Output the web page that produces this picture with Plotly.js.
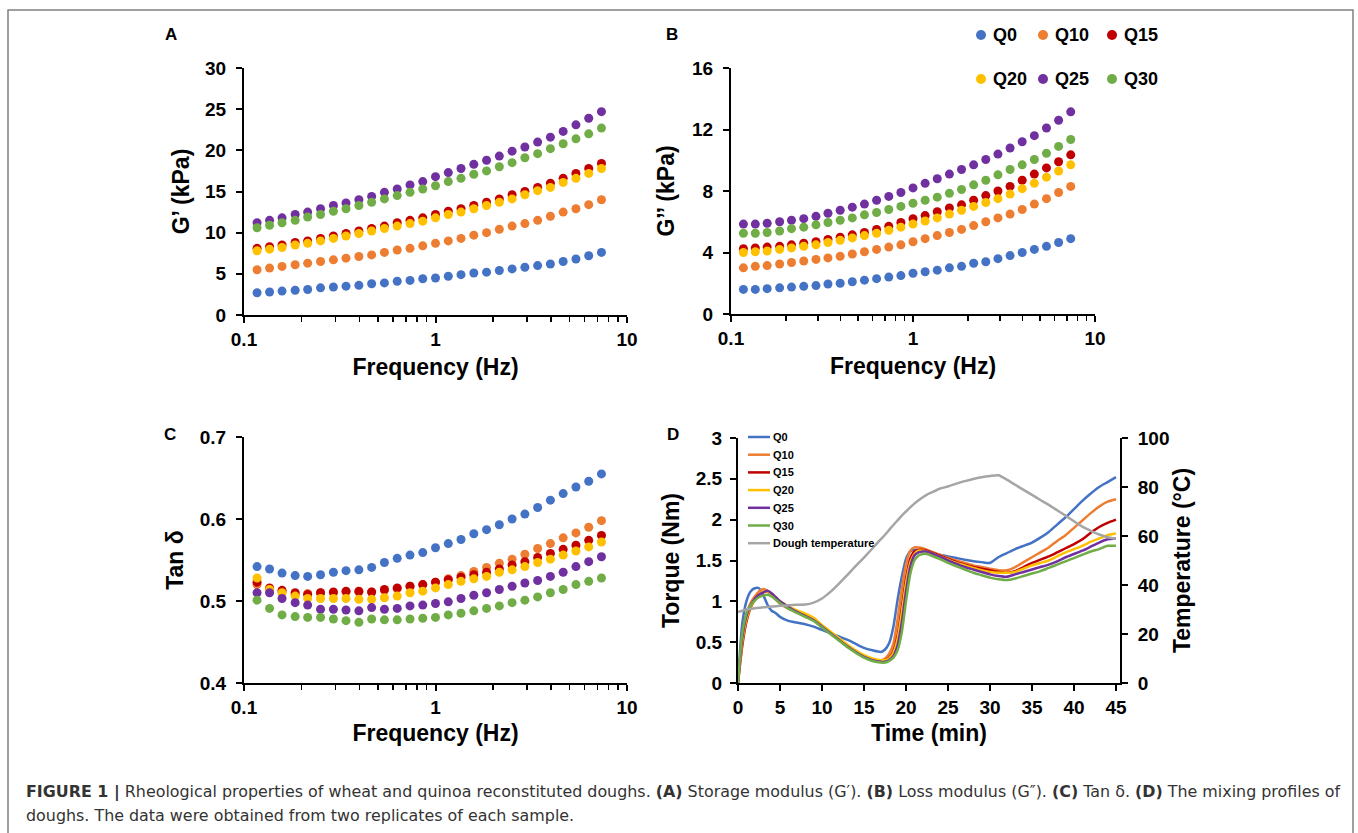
<!DOCTYPE html>
<html>
<head>
<meta charset="utf-8">
<script src="https://cdn.plot.ly/plotly-3.0.1.min.js"></script>
<style>
html,body{margin:0;padding:0;background:#fff;}
#chart{width:1358px;height:833px;}
</style>
</head>
<body>
<div id="chart"></div>
<script>
// ---------------- DATA ----------------
const seriesNames = ['Q0','Q10','Q15','Q20','Q25','Q30'];
const seriesColors = ['#4472C4','#ED7D31','#C00000','#FFC000','#7030A0','#70AD47'];
const tempName = 'Dough temperature';
const tempColor = '#A5A5A5';

// frequency sweep (Hz)
const freq = [0.117,0.136,0.158,0.185,0.215,0.251,0.293,0.341,0.398,0.464,0.541,0.631,0.736,0.858,1.0,1.166,1.359,1.585,1.848,2.154,2.512,2.929,3.415,3.981,4.642,5.412,6.310,7.356];

// Panel A: G' (kPa)
const gp_Q0  = [2.7,2.8,2.9,3.0,3.1,3.3,3.4,3.5,3.6,3.8,3.9,4.1,4.2,4.4,4.5,4.7,4.9,5.1,5.2,5.4,5.6,5.8,6.0,6.2,6.5,6.8,7.2,7.6];
const gp_Q10 = [5.5,5.7,5.9,6.1,6.3,6.5,6.7,6.9,7.1,7.3,7.6,7.9,8.1,8.4,8.7,9.0,9.3,9.7,10.0,10.4,10.8,11.1,11.5,12.0,12.5,12.9,13.4,14.0];
const gp_Q15 = [8.1,8.3,8.5,8.8,9.0,9.3,9.6,9.9,10.2,10.5,10.8,11.2,11.5,11.8,12.2,12.6,12.9,13.3,13.7,14.1,14.6,15.0,15.5,16.0,16.6,17.2,17.8,18.4];
const gp_Q20 = [7.8,8.0,8.2,8.5,8.7,9.0,9.3,9.6,9.9,10.2,10.5,10.8,11.1,11.4,11.8,12.2,12.5,12.9,13.3,13.7,14.1,14.6,15.1,15.5,16.1,16.6,17.2,17.8];
const gp_Q25 = [11.2,11.5,11.8,12.2,12.5,12.9,13.3,13.6,14.0,14.4,14.9,15.3,15.8,16.2,16.8,17.3,17.8,18.3,18.8,19.3,19.9,20.4,21.0,21.6,22.3,23.1,23.9,24.7];
const gp_Q30 = [10.6,10.9,11.2,11.5,11.9,12.2,12.6,12.9,13.3,13.7,14.1,14.5,14.9,15.3,15.7,16.2,16.6,17.1,17.5,18.0,18.5,19.1,19.6,20.2,20.8,21.4,22.0,22.7];

// Panel B: G'' (kPa)
const gpp_Q0  = [1.6,1.6,1.65,1.7,1.75,1.8,1.85,1.95,2.0,2.1,2.2,2.3,2.4,2.5,2.65,2.75,2.85,3.0,3.1,3.3,3.4,3.6,3.8,4.0,4.2,4.4,4.65,4.9];
const gpp_Q10 = [3.0,3.1,3.15,3.25,3.35,3.45,3.55,3.65,3.75,3.9,4.05,4.2,4.35,4.5,4.7,4.9,5.1,5.3,5.5,5.75,6.0,6.25,6.5,6.8,7.15,7.5,7.9,8.3];
const gpp_Q15 = [4.25,4.3,4.35,4.4,4.5,4.6,4.7,4.85,5.0,5.15,5.3,5.5,5.7,5.95,6.2,6.4,6.65,6.9,7.1,7.4,7.7,8.0,8.3,8.7,9.1,9.5,9.9,10.35];
const gpp_Q20 = [4.0,4.05,4.1,4.2,4.3,4.4,4.5,4.65,4.8,4.95,5.1,5.25,5.45,5.65,5.85,6.05,6.25,6.5,6.75,7.0,7.25,7.5,7.8,8.15,8.5,8.9,9.3,9.7];
const gpp_Q25 = [5.85,5.85,5.9,6.0,6.1,6.2,6.35,6.55,6.75,6.95,7.15,7.4,7.65,7.9,8.2,8.5,8.8,9.1,9.4,9.7,10.05,10.4,10.8,11.2,11.6,12.1,12.6,13.15];
const gpp_Q30 = [5.25,5.25,5.3,5.4,5.55,5.65,5.8,5.95,6.1,6.25,6.45,6.6,6.8,7.0,7.2,7.4,7.6,7.85,8.1,8.4,8.7,9.05,9.4,9.7,10.05,10.45,10.9,11.35];

// Panel C: tan delta
const tan_Q0  = [0.542,0.539,0.534,0.531,0.530,0.532,0.535,0.537,0.538,0.541,0.547,0.552,0.556,0.559,0.565,0.570,0.575,0.582,0.587,0.593,0.600,0.606,0.614,0.623,0.631,0.639,0.646,0.655];
const tan_Q10 = [0.520,0.514,0.511,0.508,0.509,0.510,0.510,0.511,0.511,0.511,0.513,0.515,0.518,0.520,0.523,0.527,0.531,0.536,0.541,0.546,0.551,0.557,0.564,0.570,0.577,0.583,0.590,0.598];
const tan_Q15 = [0.523,0.516,0.513,0.510,0.508,0.510,0.511,0.512,0.512,0.511,0.514,0.516,0.518,0.520,0.523,0.526,0.529,0.532,0.535,0.539,0.544,0.548,0.553,0.558,0.563,0.568,0.574,0.580];
const tan_Q20 = [0.528,0.514,0.510,0.506,0.503,0.503,0.503,0.503,0.502,0.502,0.504,0.506,0.510,0.512,0.516,0.520,0.524,0.527,0.530,0.535,0.538,0.542,0.547,0.551,0.556,0.561,0.566,0.572];
const tan_Q25 = [0.510,0.510,0.503,0.498,0.495,0.490,0.490,0.489,0.488,0.492,0.490,0.491,0.494,0.495,0.497,0.499,0.503,0.507,0.510,0.514,0.518,0.522,0.525,0.530,0.535,0.542,0.548,0.554];
const tan_Q30 = [0.501,0.491,0.483,0.481,0.480,0.480,0.478,0.476,0.474,0.478,0.477,0.477,0.478,0.479,0.480,0.483,0.485,0.488,0.491,0.494,0.498,0.501,0.505,0.510,0.514,0.520,0.524,0.528];

// Panel D: mixing profile
const time = [0,0.5,1,1.5,2,2.5,3,3.5,4,4.5,5,6,7,8,9,10,11,12,13,14,15,16,17,17.5,18,18.5,19,19.5,20,20.5,21,21.5,22,22.5,23,24,25,26,27,28,29,30,31,32,33,34,35,36,37,38,39,40,41,42,43,44,45];
const torque_Q0  = [0,0.72,1.00,1.12,1.16,1.16,1.08,0.96,0.885,0.855,0.81,0.76,0.74,0.72,0.69,0.65,0.61,0.57,0.53,0.48,0.43,0.40,0.38,0.41,0.49,0.69,1.02,1.30,1.52,1.61,1.63,1.63,1.62,1.61,1.60,1.57,1.55,1.53,1.51,1.49,1.48,1.47,1.54,1.59,1.64,1.68,1.72,1.78,1.85,1.94,2.03,2.13,2.23,2.32,2.40,2.46,2.52];
const torque_Q10 = [0,0.55,0.85,0.98,1.06,1.12,1.15,1.13,1.08,1.02,0.97,0.91,0.87,0.83,0.78,0.70,0.62,0.54,0.46,0.39,0.33,0.29,0.28,0.30,0.36,0.48,0.78,1.15,1.45,1.62,1.66,1.66,1.65,1.63,1.61,1.57,1.53,1.50,1.47,1.44,1.42,1.40,1.38,1.38,1.42,1.48,1.54,1.60,1.66,1.74,1.81,1.90,1.99,2.08,2.16,2.22,2.25];
const torque_Q15 = [0,0.45,0.75,0.92,1.02,1.08,1.11,1.12,1.09,1.04,0.99,0.92,0.87,0.82,0.77,0.69,0.61,0.53,0.45,0.38,0.32,0.28,0.27,0.28,0.31,0.39,0.58,0.92,1.28,1.52,1.61,1.63,1.63,1.62,1.60,1.56,1.52,1.48,1.45,1.42,1.40,1.38,1.36,1.35,1.37,1.42,1.47,1.51,1.55,1.60,1.65,1.70,1.76,1.84,1.91,1.96,2.00];
const torque_Q20 = [0,0.50,0.78,0.93,1.02,1.08,1.12,1.12,1.09,1.05,1.00,0.94,0.89,0.85,0.80,0.71,0.63,0.55,0.47,0.40,0.34,0.30,0.28,0.28,0.30,0.37,0.54,0.86,1.22,1.47,1.58,1.62,1.62,1.61,1.59,1.55,1.51,1.47,1.44,1.41,1.38,1.36,1.35,1.35,1.36,1.40,1.44,1.47,1.50,1.55,1.60,1.64,1.68,1.73,1.77,1.81,1.83];
const torque_Q25 = [0,0.55,0.82,0.95,1.03,1.08,1.11,1.13,1.10,1.05,1.00,0.93,0.87,0.82,0.77,0.69,0.61,0.53,0.45,0.38,0.32,0.28,0.26,0.26,0.28,0.33,0.46,0.74,1.12,1.42,1.56,1.60,1.61,1.61,1.59,1.55,1.50,1.46,1.42,1.39,1.36,1.33,1.31,1.30,1.33,1.36,1.39,1.42,1.45,1.49,1.54,1.58,1.62,1.67,1.72,1.76,1.77];
const torque_Q30 = [0,0.60,0.85,0.95,1.01,1.05,1.07,1.08,1.06,1.02,0.98,0.91,0.86,0.81,0.76,0.68,0.60,0.52,0.44,0.37,0.31,0.27,0.25,0.25,0.27,0.31,0.40,0.62,1.00,1.33,1.50,1.56,1.58,1.58,1.56,1.52,1.47,1.43,1.39,1.35,1.32,1.29,1.27,1.26,1.28,1.31,1.34,1.37,1.41,1.45,1.49,1.53,1.57,1.61,1.64,1.68,1.68];
const doughTemp  = [29.0,29.5,30.0,30.3,30.5,30.7,30.9,31.0,31.2,31.3,31.5,31.7,31.9,32.0,32.8,34.5,37.2,40.5,44.0,47.7,51.2,54.9,58.7,60.5,62.5,64.5,66.4,68.3,70.0,71.7,73.2,74.6,75.8,76.9,77.7,79.3,80.2,81.4,82.4,83.3,84.0,84.5,84.8,83.0,80.9,78.8,76.8,74.7,72.7,70.5,68.3,66.0,63.8,62.1,60.6,59.5,58.9];

const panelA = [gp_Q0,gp_Q10,gp_Q15,gp_Q20,gp_Q25,gp_Q30];
const panelB = [gpp_Q0,gpp_Q10,gpp_Q15,gpp_Q20,gpp_Q25,gpp_Q30];
const panelC = [tan_Q0,tan_Q10,tan_Q15,tan_Q20,tan_Q25,tan_Q30];
const panelD = [torque_Q0,torque_Q10,torque_Q15,torque_Q20,torque_Q25,torque_Q30];

const xTickVals = [0.1,1,10];
const xTickText = ['0.1','1','10'];

const captionLine1 = '<b>FIGURE 1 |</b> Rheological properties of wheat and quinoa reconstituted doughs. <b>(A)</b> Storage modulus (G′). <b>(B)</b> Loss modulus (G″). <b>(C)</b> Tan δ. <b>(D)</b> The mixing profiles of';
const captionLine2 = 'doughs. The data were obtained from two replicates of each sample.';

// ---------------- LAYOUT HELPERS ----------------
const W = 1358, H = 833;
const px = v => v / W;
const py = v => 1 - v / H;
const FONT = 'Liberation Sans, Arial, sans-serif';
const CAPFONT = 'DejaVu Sans, Liberation Sans, sans-serif';
const tickFont = {family: FONT, size: 19, color: '#000', weight: 'bold'};
const titleFont = {family: FONT, size: 23, color: '#000', weight: 'bold'};

function baseAxis(extra) {
  return Object.assign({
    showline: true, linecolor: '#000', linewidth: 2,
    ticks: 'outside', ticklen: 6, tickwidth: 2, tickcolor: '#000',
    showgrid: false, zeroline: false, tickfont: tickFont,
    fixedrange: true
  }, extra);
}
function logX(domain, anchor, standoff) {
  return baseAxis({
    type: 'log', range: [-1, 1], domain: domain, anchor: anchor,
    tickmode: 'array', tickvals: xTickVals, ticktext: xTickText,
    minor: {ticks: 'outside', ticklen: 5, tickwidth: 1.5, tickcolor: '#000', dtick: 'D1', showgrid: false},
    title: {text: 'Frequency (Hz)', font: titleFont, standoff: standoff}
  });
}

const traces = [];
const panels = [[panelA, 'x', 'y'], [panelB, 'x2', 'y2'], [panelC, 'x3', 'y3']];
panels.forEach(([vals, xa, ya]) => {
  vals.forEach((v, i) => {
    traces.push({
      type: 'scatter', mode: 'markers', x: freq, y: v, xaxis: xa, yaxis: ya,
      name: seriesNames[i], showlegend: false,
      marker: {color: seriesColors[i], size: 9, line: {width: 0}}
    });
  });
});
panelD.forEach((v, i) => {
  traces.push({
    type: 'scatter', mode: 'lines', x: time, y: v, xaxis: 'x4', yaxis: 'y4',
    name: seriesNames[i], showlegend: false,
    line: {color: seriesColors[i], width: 2.5, shape: 'spline', smoothing: 0.6}
  });
});
traces.push({
  type: 'scatter', mode: 'lines', x: time, y: doughTemp, xaxis: 'x4', yaxis: 'y5',
  name: tempName, showlegend: false,
  line: {color: tempColor, width: 2.5, shape: 'spline', smoothing: 0.6}
});

// ---------------- ANNOTATIONS & SHAPES ----------------
const annotations = [];
const shapes = [];

// panel letters
[['A', 171, 35], ['B', 672, 35], ['C', 170, 435], ['D', 673, 435]].forEach(([t, x, y]) => {
  annotations.push({text: '<b>' + t + '</b>', x: px(x), y: py(y), xref: 'paper', yref: 'paper',
    xanchor: 'center', yanchor: 'middle', showarrow: false, font: {family: FONT, size: 17, color: '#000'}});
});

// legend for A-C (marker legend placed in panel B)
const legMarkX = [981, 1043, 1112];
const legRowY = [35, 79];
seriesNames.forEach((n, i) => {
  const col = i % 3, row = Math.floor(i / 3);
  const cx = legMarkX[col], cy = legRowY[row];
  shapes.push({type: 'circle', xref: 'paper', yref: 'paper',
    x0: px(cx - 5), x1: px(cx + 5), y0: py(cy + 5), y1: py(cy - 5),
    fillcolor: seriesColors[i], line: {width: 0}});
  annotations.push({text: '<b>' + n + '</b>', x: px(cx + 10), y: py(cy), xref: 'paper', yref: 'paper',
    xanchor: 'left', yanchor: 'middle', showarrow: false, font: {family: FONT, size: 18, color: '#000'}});
});

// legend for D (line legend)
const dNames = seriesNames.concat([tempName]);
const dColors = seriesColors.concat([tempColor]);
dNames.forEach((n, i) => {
  const cy = 437 + i * 17.7;
  shapes.push({type: 'line', xref: 'paper', yref: 'paper',
    x0: px(748), x1: px(770), y0: py(cy), y1: py(cy), line: {color: dColors[i], width: 2.5}});
  annotations.push({text: '<b>' + n + '</b>', x: px(771), y: py(cy), xref: 'paper', yref: 'paper',
    xanchor: 'left', yanchor: 'middle', showarrow: false, font: {family: FONT, size: 11, color: '#000'}});
});

// caption
annotations.push({text: captionLine1, x: px(24), y: py(792), xref: 'paper', yref: 'paper',
  xanchor: 'left', yanchor: 'middle', showarrow: false, align: 'left',
  font: {family: CAPFONT, size: 15.9, color: '#333'}});
annotations.push({text: captionLine2, x: px(24), y: py(815), xref: 'paper', yref: 'paper',
  xanchor: 'left', yanchor: 'middle', showarrow: false, align: 'left',
  font: {family: CAPFONT, size: 15.9, color: '#333'}});

// figure border
shapes.push({type: 'rect', xref: 'paper', yref: 'paper', x0: px(8), x1: px(1353), y0: py(10), y1: -0.05,
  line: {color: '#808080', width: 1.5}, fillcolor: 'rgba(0,0,0,0)', layer: 'below'});

const layout = {
  width: W, height: H,
  margin: {l: 0, r: 0, t: 0, b: 0},
  paper_bgcolor: '#fff', plot_bgcolor: '#fff',
  showlegend: false,
  font: {family: FONT, color: '#000'},
  xaxis: logX([px(244), px(627)], 'y', 10),
  yaxis: baseAxis({domain: [py(315), py(68)], anchor: 'x', range: [0, 30], dtick: 5, ticklabelstandoff: 6,
    title: {text: 'G’ (kPa)', font: titleFont, standoff: 9}}),
  xaxis2: logX([px(731), px(1095)], 'y2', 10),
  yaxis2: baseAxis({domain: [py(314), py(68)], anchor: 'x2', range: [0, 16], dtick: 4, ticklabelstandoff: 6,
    title: {text: 'G’’ (kPa)', font: titleFont, standoff: 11}}),
  xaxis3: logX([px(244), px(627)], 'y3', 8),
  yaxis3: baseAxis({domain: [py(683), py(437)], anchor: 'x3', range: [0.4, 0.7], dtick: 0.1, tickformat: '.1f',
    ticklabelstandoff: 6, title: {text: 'Tan δ', font: titleFont, standoff: 10}}),
  xaxis4: baseAxis({domain: [px(738), px(1120)], anchor: 'y4', range: [0, 45.48], dtick: 5,
    title: {text: 'Time (min)', font: titleFont, standoff: 8}}),
  yaxis4: baseAxis({domain: [py(683), py(438)], anchor: 'x4', range: [0, 3], dtick: 0.5, ticklabelstandoff: 4,
    title: {text: 'Torque (Nm)', font: titleFont, standoff: 10}}),
  yaxis5: baseAxis({domain: [py(683), py(438)], anchor: 'x4', overlaying: 'y4', side: 'right',
    range: [0, 100], dtick: 20, ticklabelstandoff: 6,
    title: {text: 'Temperature (°C)', font: titleFont, standoff: 5}}),
  annotations: annotations,
  shapes: shapes
};

Plotly.newPlot('chart', traces, layout, {displayModeBar: false, staticPlot: true});
</script>
</body>
</html>
